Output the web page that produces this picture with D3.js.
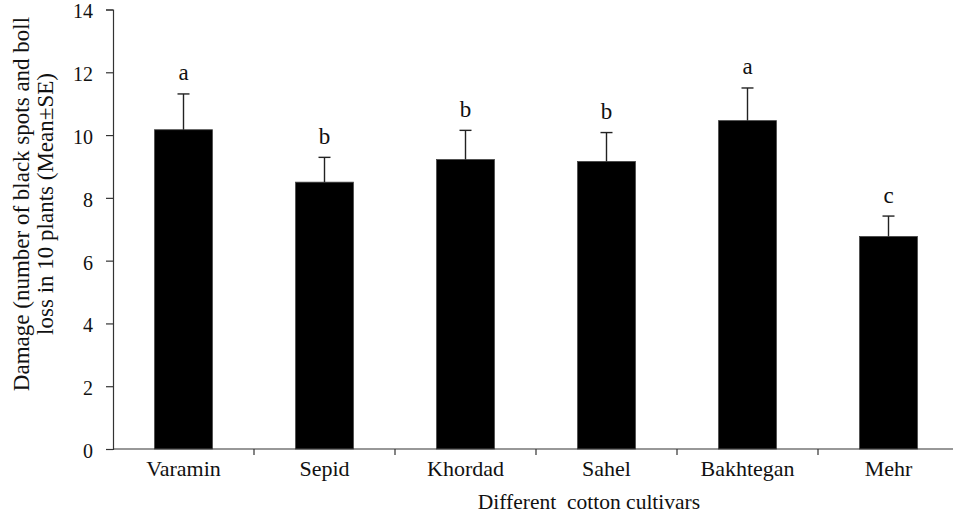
<!DOCTYPE html>
<html><head><meta charset="utf-8">
<script src="https://cdn.jsdelivr.net/npm/d3@7"></script>
<style>html,body{margin:0;padding:0;background:#fff;overflow:hidden}
svg text{font-family:"Times New Roman","Liberation Serif","DejaVu Serif",serif;}</style>
</head><body>
<svg id="c" width="953" height="514"></svg>
<script>
const categories = ["Varamin","Sepid","Khordad","Sahel","Bakhtegan","Mehr"];
const means = [10.17, 8.50, 9.22, 9.16, 10.46, 6.77];
const errors = [1.14, 0.79, 0.93, 0.92, 1.04, 0.65];
const letters = ["a","b","b","b","a","c"];
const yTicks = [0,2,4,6,8,10,12,14];
const xTitle = "Different\u00a0 cotton cultivars";
const yTitle = ["Damage (number of black spots and boll","loss in 10 plants (Mean\u00b1SE)"];

const svg = d3.select("#c");
const pLeft = 113, pRight = 959, pTop = 9.5, pBottom = 449;

const x = d3.scaleBand().domain(categories).range([pLeft, pRight]).paddingInner(0.59).paddingOuter(0.295);
const y = d3.scaleLinear().domain([0,14]).range([pBottom, pTop]);

// bars
svg.append("g").selectAll("rect").data(categories).join("rect")
  .attr("x", d => x(d)).attr("width", x.bandwidth())
  .attr("y", (d,i) => y(means[i])).attr("height", (d,i) => y(0) - y(means[i]))
  .attr("fill", "#000").attr("stroke", "#444").attr("stroke-width", 0.8);

// error bars
const eg = svg.append("g").attr("stroke", "#222").attr("stroke-width", 1.4);
categories.forEach((c,i) => {
  const cx = x(c) + x.bandwidth()/2;
  eg.append("line").attr("x1", cx).attr("x2", cx).attr("y1", y(means[i])).attr("y2", y(means[i]+errors[i]));
  eg.append("line").attr("x1", cx-6).attr("x2", cx+6).attr("y1", y(means[i]+errors[i])).attr("y2", y(means[i]+errors[i]));
});

// letters
svg.append("g").selectAll("text").data(categories).join("text")
  .attr("x", d => x(d) + x.bandwidth()/2)
  .attr("y", (d,i) => y(means[i]+errors[i]) - 13.5)
  .attr("text-anchor", "middle").attr("font-size", 23).attr("fill", "#111")
  .text((d,i) => letters[i]);

// y axis
const ya = svg.append("g").attr("transform", `translate(${pLeft},0)`)
  .call(d3.axisLeft(y).tickValues(yTicks).tickSize(7).tickPadding(13).tickFormat(d3.format("d")));
ya.attr("font-family", null);
ya.select(".domain").attr("stroke", "#333").attr("stroke-width", 1.2);
ya.selectAll(".tick line").attr("stroke", "#333").attr("stroke-width", 1.2);
ya.selectAll("text").attr("font-size", 20).attr("fill", "#111").attr("dy", "0.42em");

// x axis
const xBoundaries = d3.scaleLinear().domain([0, categories.length]).range([pLeft, pRight]);
const xa = svg.append("g").attr("transform", `translate(0,${pBottom})`);
xa.append("line").attr("x1", pLeft).attr("x2", pRight).attr("stroke", "#333").attr("stroke-width", 1.2);
xa.selectAll("line.tk").data(d3.range(1, categories.length)).join("line").attr("class","tk")
  .attr("x1", d => xBoundaries(d)).attr("x2", d => xBoundaries(d)).attr("y1", 0).attr("y2", 6)
  .attr("stroke", "#333").attr("stroke-width", 1.2);
xa.selectAll("text").data(categories).join("text")
  .attr("x", d => x(d) + x.bandwidth()/2).attr("y", 27)
  .attr("text-anchor", "middle").attr("font-size", 22).attr("fill", "#111")
  .text(d => d);

// titles
svg.append("text").attr("x", 589).attr("y", 509).attr("text-anchor", "middle")
  .attr("font-size", 21.5).attr("fill", "#111").text(xTitle);

const yt = svg.append("text").attr("transform", "translate(29,204) rotate(-90)")
  .attr("text-anchor", "middle").attr("font-size", 23).attr("fill", "#111");
yTitle.forEach((t,i) => yt.append("tspan").attr("x", 0).attr("dy", i === 0 ? 0 : 24).text(t));
</script>
</body></html>
